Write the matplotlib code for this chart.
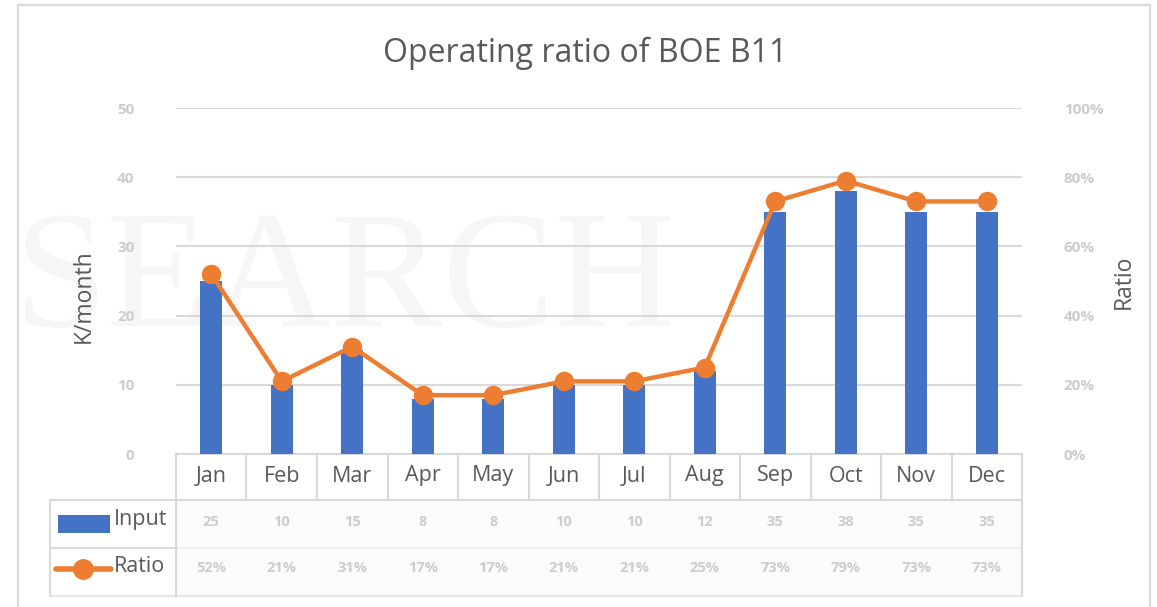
import matplotlib
matplotlib.use("Agg")
import matplotlib.pyplot as plt
import matplotlib.transforms as mtransforms
from matplotlib.lines import Line2D
from matplotlib.patches import Rectangle

# ---- data ----
months = ["Jan", "Feb", "Mar", "Apr", "May", "Jun", "Jul", "Aug", "Sep", "Oct", "Nov", "Dec"]
input_k = [25, 10, 15, 8, 8, 10, 10, 12, 35, 38, 35, 35]
ratio_pct = [52, 21, 31, 17, 17, 21, 21, 25, 73, 79, 73, 73]
left_ticks = [0, 10, 20, 30, 40, 50]
right_ticks = [0, 20, 40, 60, 80, 100]
title = "Operating ratio of BOE B11"

BLUE = "#4472C4"
ORANGE = "#ED7D31"
GRID = "#d9d9d9"
TXT = "#595959"
BLUR = "#cccccc"
FONT = ["Open Sans", "DejaVu Sans"]

W, H = 1157, 607
fig = plt.figure(figsize=(W / 100, H / 100), dpi=100)
fig.patch.set_facecolor("white")

# overlay axes in pixel coordinates (for frame, table, watermark)
ov = fig.add_axes([0, 0, 1, 1], zorder=0)
ov.set_xlim(0, W)
ov.set_ylim(H, 0)
ov.axis("off")

# watermark
ov.text(14, 326, "SEARCH", family="Liberation Serif", fontsize=121,
        color="#f6f6f6", ha="left", va="baseline", zorder=0)

# outer frame
ov.plot([18, 18, 1150, 1150], [H + 5, 5, 5, H + 5], color="#d9d9d9", lw=1.6, zorder=1)

# title
ov.text(585, 53, title, ha="center", va="center", fontsize=23, color=TXT, family=FONT, zorder=3)

# main axes
x0, x1, ytop, ybot = 176, 1022, 108, 454
ax = fig.add_axes([x0 / W, (H - ybot) / H, (x1 - x0) / W, (ybot - ytop) / H], zorder=2)
ax.set_facecolor("none")
xs = list(range(len(months)))
ax.bar(xs, input_k, width=0.31, color=BLUE, zorder=3)
ax.set_xlim(-0.5, len(months) - 0.5)
ax.set_ylim(0, 50)
ax.set_yticks(left_ticks)
ax.set_yticklabels([str(t) for t in left_ticks])
ax.tick_params(axis="y", length=0, pad=30, labelsize=11, labelcolor=BLUR)
for lab in ax.get_yticklabels():
    lab.set_fontweight("bold")
    lab.set_family(FONT)
ax.set_xticks([])
ax.grid(axis="y", color=GRID, lw=1.5, zorder=0)
for s in ax.spines.values():
    s.set_visible(False)

ax2 = ax.twinx()
ax2.set_facecolor("none")
ax2.plot(xs, ratio_pct, color=ORANGE, lw=3.2, marker="o", markersize=13,
         solid_capstyle="round", zorder=4, clip_on=False)
ax2.set_ylim(0, 100)
ax2.set_yticks(right_ticks)
ax2.set_yticklabels([f"{t}%" for t in right_ticks])
ax2.tick_params(axis="y", length=0, pad=30, labelsize=11, labelcolor=BLUR)
for lab in ax2.get_yticklabels():
    lab.set_fontweight("bold")
    lab.set_family(FONT)
for s in ax2.spines.values():
    s.set_visible(False)

# axis titles
ov.text(84, 296, "K/month", rotation=90, ha="center", va="center", fontsize=16.5,
        color=TXT, family=FONT, zorder=3)
ov.text(1124, 282, "Ratio", rotation=90, ha="center", va="center", fontsize=16.5,
        color=TXT, family=FONT, zorder=3)

# ---- data table ----
tr = mtransforms.blended_transform_factory(ax.transData, ov.transData)
ncat = len(months)
cat_top, cat_bot, row_mid, tab_bot = 454, 500, 548, 596
leg_left = 50
ov.add_patch(Rectangle((0, cat_bot), 1, tab_bot - cat_bot,
                       transform=mtransforms.blended_transform_factory(ax.transAxes, ov.transData),
                       facecolor="#fbfbfb", edgecolor="none", zorder=1))
lkw = dict(color=GRID, lw=1.5, zorder=2)
ov.plot([x0, x1], [cat_top, cat_top], **lkw)
ov.plot([leg_left, x1], [cat_bot, cat_bot], **lkw)
ov.plot([leg_left, x0], [row_mid, row_mid], **lkw)
ov.plot([x0, x1], [row_mid, row_mid], color="#eeeeee", lw=1.2, zorder=2)
ov.plot([leg_left, x1], [tab_bot, tab_bot], color="#e6e6e6", lw=1.5, zorder=2)
for i in range(ncat + 1):
    xb = i - 0.5
    ov.plot([xb, xb], [cat_top, cat_bot], transform=tr, **lkw)
ov.plot([x1, x1], [cat_bot, tab_bot], **lkw)
ov.plot([leg_left, leg_left], [cat_bot, tab_bot], **lkw)
ov.plot([x0, x0], [cat_bot, tab_bot], **lkw)

for i, m in enumerate(months):
    ov.text(i, (cat_top + cat_bot) / 2 - 1, m, transform=tr, ha="center", va="center",
            fontsize=15.5, color=TXT, family=FONT, zorder=3)
    ov.text(i, (cat_bot + row_mid) / 2 - 2, str(input_k[i]), transform=tr, ha="center", va="center",
            fontsize=10.5, color=BLUR, family=FONT, fontweight="bold", zorder=3)
    ov.text(i, (row_mid + tab_bot) / 2 - 4, f"{ratio_pct[i]}%", transform=tr, ha="center", va="center",
            fontsize=10.5, color=BLUR, family=FONT, fontweight="bold", zorder=3)

# legend keys inside table
ov.add_patch(Rectangle((58, 515), 52, 18, facecolor=BLUE, edgecolor="none", zorder=3))
ov.text(114, 520, "Input", ha="left", va="center", fontsize=15.5, color=TXT, family=FONT, zorder=3)
ov.add_line(Line2D([56, 111], [569, 569], color=ORANGE, lw=4, solid_capstyle="round", zorder=3))
ov.add_line(Line2D([83], [569], color=ORANGE, marker="o", markersize=14, zorder=4))
ov.text(114, 566, "Ratio", ha="left", va="center", fontsize=15.5, color=TXT, family=FONT, zorder=3)

fig.savefig("out.png", dpi=100, facecolor="white")
